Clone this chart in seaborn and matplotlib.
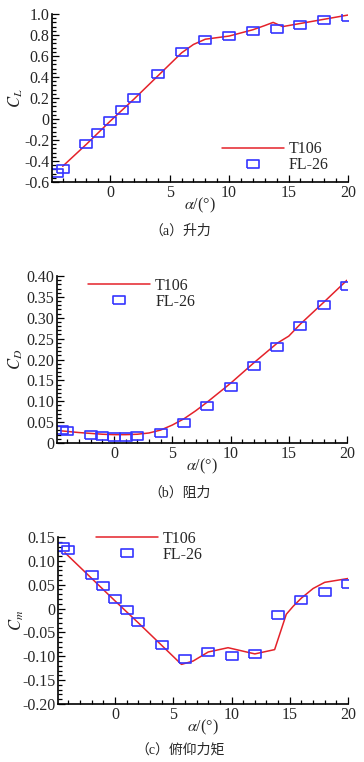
import numpy as np
import pandas as pd
import seaborn as sns
import matplotlib.pyplot as plt
from matplotlib.ticker import MultipleLocator

# ---- data ----
alpha_exp = [-4.5, -4, -2, -1, 0, 1, 2, 4, 6, 8, 10, 12, 14, 16, 18, 20]
cl_exp = [-0.51, -0.48, -0.24, -0.13, -0.02, 0.09, 0.20, 0.43, 0.64, 0.75, 0.79, 0.84, 0.86, 0.90, 0.94, 0.97]
cd_exp = [0.032, 0.029, 0.018, 0.016, 0.015, 0.015, 0.016, 0.024, 0.048, 0.088, 0.135, 0.185, 0.231, 0.281, 0.330, 0.377]
cm_exp = [0.129, 0.122, 0.071, 0.047, 0.021, -0.004, -0.028, -0.076, -0.106, -0.090, -0.100, -0.096, -0.013, 0.019, 0.034, 0.052]

alpha_cl_cfd = [-4, -2, 0, 2, 4, 5, 6, 7, 8, 10, 12, 13, 13.7, 14.5, 16, 18, 20]
cl_cfd = [-0.45, -0.24, -0.02, 0.19, 0.41, 0.52, 0.63, 0.71, 0.76, 0.79, 0.85, 0.89, 0.92, 0.88, 0.91, 0.95, 0.99]

alpha_cd_cfd = [-4.5, -3, -2, -1, 0, 1, 2, 3, 4, 5, 6, 7, 8, 10, 12, 14, 15, 16, 18, 20]
cd_cfd = [0.029, 0.025, 0.023, 0.021, 0.020, 0.020, 0.021, 0.024, 0.031, 0.043, 0.058, 0.077, 0.098,
          0.143, 0.192, 0.239, 0.256, 0.285, 0.337, 0.390]

alpha_cm_cfd = [-4.3, -2, 0, 2, 4, 5.7, 6.7, 8, 9.7, 12, 13.7, 14.7, 15.3, 16, 17, 18, 20]
cm_cfd = [0.117, 0.063, 0.016, -0.030, -0.077, -0.117, -0.110, -0.091, -0.082, -0.095, -0.086,
          -0.012, 0.005, 0.022, 0.042, 0.055, 0.063]

x_ticks = [0, 5, 10, 15, 20]
x_ticklabels = ['0', '5', '10', '15', '20']
cl_ticks = [-0.6, -0.4, -0.2, 0, 0.2, 0.4, 0.6, 0.8, 1.0]
cl_ticklabels = ['-0.6', '-0.4', '-0.2', '0', '0.2', '0.4', '0.6', '0.8', '1.0']
cd_ticks = [0, 0.05, 0.10, 0.15, 0.20, 0.25, 0.30, 0.35, 0.40]
cd_ticklabels = ['0', '0.05', '0.10', '0.15', '0.20', '0.25', '0.30', '0.35', '0.40']
cm_ticks = [-0.20, -0.15, -0.10, -0.05, 0, 0.05, 0.10, 0.15]
cm_ticklabels = ['-0.20', '-0.15', '-0.10', '-0.05', '0', '0.05', '0.10', '0.15']

sns.set_theme(style="ticks")
plt.rcParams['font.family'] = ['Liberation Serif', 'Noto Sans CJK SC']
plt.rcParams['mathtext.fontset'] = 'stix'
plt.rcParams['axes.unicode_minus'] = False

W, H = 364, 762
fig = plt.figure(figsize=(W / 100, H / 100), dpi=100)

rect = [(-1.6, -1), (1.6, -1), (1.6, 1), (-1.6, 1), (-1.6, -1)]
red = '#e4222a'
blue = '#3535ff'

panels = [
    # axes box in pixels (left, top, right, bottom)
    dict(box=(52, 14, 348, 182), cfd=(alpha_cl_cfd, cl_cfd), exp=cl_exp,
         yt=cl_ticks, ytl=cl_ticklabels, ylim=(-0.6, 1.0), minor=0.04,
         ylabel=r'$C_L$', leg=(0.574, 0.146), ylx=-0.092, cap='（a）升力', capy=231),
    dict(box=(57, 276, 347, 443), cfd=(alpha_cd_cfd, cd_cfd), exp=cd_exp,
         yt=cd_ticks, ytl=cd_ticklabels, ylim=(0, 0.40), minor=0.01,
         ylabel=r'$C_D$', leg=(0.107, 0.895), ylx=-0.11, cap='（b）阻力', capy=493),
    dict(box=(58, 537, 348, 704), cfd=(alpha_cm_cfd, cm_cfd), exp=cm_exp,
         yt=cm_ticks, ytl=cm_ticklabels, ylim=(-0.20, 0.15), minor=0.01,
         ylabel=r'$C_m$', leg=(0.131, 0.94), ylx=-0.112, cap='（c）俯仰力矩', capy=750),
]

for p in panels:
    l, t, r, b = p['box']
    ax = fig.add_axes([l / W, 1 - b / H, (r - l) / W, (b - t) / H])
    cfd = pd.DataFrame({'alpha': p['cfd'][0], 'c': p['cfd'][1]})
    exp = pd.DataFrame({'alpha': alpha_exp, 'c': p['exp']})
    sns.lineplot(data=cfd, x='alpha', y='c', ax=ax, color=red, lw=1.1, label='T106')
    sns.lineplot(data=exp, x='alpha', y='c', ax=ax, linestyle='none', marker=rect,
                 markersize=8.5, markerfacecolor='none', markeredgecolor=blue,
                 markeredgewidth=1.2, color=blue, label='FL-26')
    ax.set_xlim(-4.9, 20)
    ax.set_ylim(*p['ylim'])
    ax.set_xticks(x_ticks)
    ax.set_xticklabels(x_ticklabels)
    ax.set_yticks(p['yt'])
    ax.set_yticklabels(p['ytl'])
    ax.xaxis.set_minor_locator(MultipleLocator(1))
    ax.yaxis.set_minor_locator(MultipleLocator(p['minor']))
    ax.tick_params(which='both', direction='in', labelsize=11.5, pad=2, color='black', width=0.9)
    ax.tick_params(which='major', length=5)
    ax.tick_params(which='minor', length=3)
    sns.despine(ax=ax)
    for s in ['left', 'bottom']:
        ax.spines[s].set_color('black')
        ax.spines[s].set_linewidth(1.2)
    ax.set_xlabel(r'$\alpha$/(°)', fontsize=11.5)
    ax.xaxis.set_label_coords(0.5, -0.085)
    ax.set_ylabel(p['ylabel'], fontsize=12)
    ax.yaxis.set_label_coords(p['ylx'], 0.5)
    ax.legend(loc='center left', bbox_to_anchor=p['leg'], frameon=False, fontsize=11.5,
              handlelength=3.9, handletextpad=0.3, labelspacing=0.0, borderpad=0,
              borderaxespad=0)
    fig.text(180 / W, 1 - p['capy'] / H, p['cap'], ha='center', va='center', fontsize=10,
             family=['Liberation Serif', 'Noto Sans CJK SC'])

fig.savefig('out.png', dpi=100)
